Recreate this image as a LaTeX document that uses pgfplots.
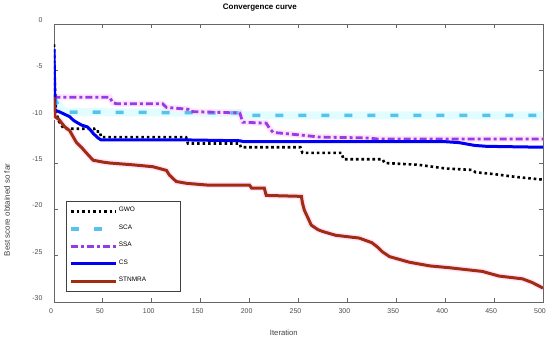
\documentclass[border=0pt]{standalone}
\usepackage{fontspec}
\setmainfont{Liberation Sans}
\usepackage{pgfplots}
\usepackage{pgfplotstable}
\pgfplotsset{compat=1.18}
\definecolor{gwoc}{RGB}{0,0,0}
\definecolor{scac}{RGB}{85,195,238}
\definecolor{ssac}{RGB}{150,60,230}
\definecolor{csc}{RGB}{0,0,245}
\definecolor{stc}{RGB}{160,45,18}
\definecolor{cyanhalo}{RGB}{226,253,255}
\definecolor{pinkhalo}{RGB}{255,228,250}

\pgfplotstableread{
x y
0 -2.2
1 -7.0
2 -9.5
5 -10.5
10 -11.3
41 -11.3
42 -11.6
47 -11.6
48 -12.2
135 -12.2
137 -12.9
190 -12.9
191 -13.3
252 -13.3
254 -13.9
294 -13.9
296 -14.6
336 -14.6
338 -15.0
373 -15.2
380 -15.3
401 -15.6
428 -15.75
431 -16.0
450 -16.2
472 -16.5
500 -16.8
}\gwo

\pgfplotstableread{
x y
0 -7.9
3 -8.5
8 -9.2
12 -9.5
190 -9.6
192 -9.85
500 -9.85
}\sca

\pgfplotstableread{
x y
0 -7.7
2 -7.9
57 -7.9
60 -8.5
64 -8.6
111 -8.6
115 -9.0
137 -9.2
140 -9.45
190 -9.6
193 -10.6
217 -10.7
220 -11.2
224 -11.7
254 -12.0
271 -12.2
322 -12.3
330 -12.4
500 -12.4
}\ssa

\pgfplotstableread{
x y
0 -2.7
1 -9.3
6 -9.5
10 -9.7
16 -10.0
20 -10.4
23 -10.6
28 -10.9
34 -11.1
37 -11.4
40 -11.8
45 -12.3
48 -12.5
130 -12.5
190 -12.6
194 -12.7
400 -12.7
414 -12.8
430 -13.1
442 -13.2
500 -13.3
}\cs

\pgfplotstableread{
x y
0 -7.9
1 -10.0
5 -10.3
11 -11.1
16 -11.5
23 -12.8
28 -13.3
33 -13.9
40 -14.7
50 -14.9
57 -15.0
81 -15.2
101 -15.4
115 -15.8
118 -16.3
125 -17.0
136 -17.2
159 -17.4
200 -17.4
202 -17.7
215 -17.7
217 -18.5
253 -18.6
254 -19.3
256 -20.1
260 -21.0
263 -21.7
270 -22.2
275 -22.4
288 -22.8
312 -23.1
325 -23.6
330 -24.0
336 -24.6
343 -25.1
363 -25.7
384 -26.1
404 -26.3
438 -26.7
455 -27.2
479 -27.5
489 -27.9
500 -28.5
}\stn

\begin{document}
\begin{tikzpicture}
\useasboundingbox (-54bp,-39bp) rectangle (496bp,302bp);
\begin{axis}[
  at={(0,0)}, anchor=south west,
  scale only axis, width=489bp, height=278bp,
  xmin=0, xmax=500, ymin=-30, ymax=0,
  xtick={0,50,...,500}, ytick={-30,-25,...,0},
  tick align=inside, major tick length=4bp,
  axis line style={draw=black!60, line width=0.8bp},
  tick style={draw=black!60, line width=0.8bp},
  /pgf/number format/assume math mode=true,
  tick label style={font=\fontsize{7}{8}\selectfont, text=black!70},
  xticklabel style={yshift=-3bp, xshift=-3bp},
  yticklabel style={xshift=-8bp, yshift=4bp},
  every axis title shift=0pt,
  title={\textbf{Convergence curve}},
  title style={at={(axis description cs:0.421,1.0576)}, anchor=center, font=\fontsize{8}{9}\selectfont},
  xlabel={Iteration},
  xlabel style={at={(axis description cs:0.470,-0.1115)}, anchor=center, font=\fontsize{7.7}{9}\selectfont, text=black!75},
  ylabel={Best score obtained so far},
  ylabel style={at={(axis description cs:-0.0961,0.331)}, anchor=center, font=\fontsize{8}{9}\selectfont, text=black!75},
  legend style={at={(axis description cs:0.0245,0.036)}, anchor=south west,
    draw=black!75, line width=0.7bp, font=\fontsize{6.5}{7}\selectfont,
    inner xsep=3bp, inner ysep=5bp, row sep=7bp,
    nodes={inner sep=1bp, anchor=west}},
  legend cell align=left,
  legend image code/.code={\draw[#1] (0bp,0bp) -- (45bp,0bp);},
]
% halos
\addplot[cyanhalo, line width=8bp, forget plot] table {\sca};
\addplot[pinkhalo, line width=6bp, forget plot] table {\ssa};
\addplot[pinkhalo, line width=6bp, forget plot] table {\stn};

\addplot[gwoc, line width=2.6bp, dash pattern=on 2.6bp off 2.9bp] table {\gwo};
\addlegendentry{\makebox[58bp][l]{\raisebox{2.5bp}{GWO}}}
\addplot[scac, line width=3.5bp, dash pattern=on 8bp off 15bp] table {\sca};
\addlegendentry{\makebox[58bp][l]{\raisebox{2.5bp}{SCA}}}
\addplot[ssac, line width=2.8bp, dash pattern=on 7bp off 3bp on 3bp off 3bp] table {\ssa};
\addlegendentry{\makebox[58bp][l]{\raisebox{2.5bp}{SSA}}}
\addplot[csc, line width=3bp] table {\cs};
\addlegendentry{\makebox[58bp][l]{\raisebox{2.5bp}{CS}}}
\addplot[stc, line width=3bp] table {\stn};
\addlegendentry{\makebox[58bp][l]{\raisebox{2.5bp}{STNMRA}}}
\end{axis}
\end{tikzpicture}
\end{document}
